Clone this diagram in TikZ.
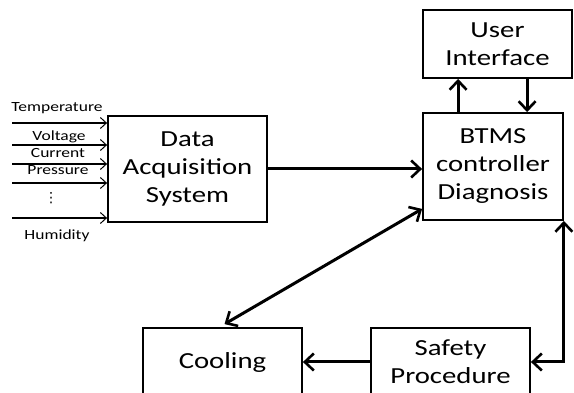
\documentclass[tikz,border=0pt]{standalone}
\usepackage{fontspec}
\setmainfont{Carlito}[FakeStretch=1.25]
\newfontfamily\symfont{DejaVu Sans}
\usetikzlibrary{arrows.meta}

\tikzset{
  block/.style={draw, line width=1.8pt, align=center, font=\fontsize{23}{28}\selectfont},
  inlabel/.style={font=\fontsize{14}{14}\selectfont},
  flow/.style={line width=3pt, -{Straight Barb[length=9pt,width=17pt,line width=2.6pt]}},
  flowboth/.style={line width=3pt, {Straight Barb[length=9pt,width=17pt,line width=2.6pt]}-{Straight Barb[length=9pt,width=17pt,line width=2.6pt]}},
  feed/.style={line width=1.1pt, -{Straight Barb[length=6pt,width=11pt,line width=1pt]}}
}

\begin{document}
\begin{tikzpicture}[x=1pt,y=-1pt]
	\useasboundingbox (0,0) rectangle (574,393);

	% blocks
	\node[block, minimum width=159pt, minimum height=106pt] (daq) at (187.5,169) {Data\\Acquisition\\System};
	\node[block, minimum width=149pt, minimum height=68pt] (ui) at (497.5,44) {User\\Interface};
	\node[block, minimum width=140pt, minimum height=107pt] (btms) at (493,166.5) {BTMS\\controller\\Diagnosis};
	\node[block, minimum width=159pt, minimum height=68pt] (cooling) at (222.5,362) {Cooling};
	\node[block, minimum width=159pt, minimum height=68pt] (safety) at (450.5,362) {Safety\\Procedure};

	% inputs
	\coordinate (in1) at (12,123);
	\coordinate (in2) at (12,145);
	\coordinate (in3) at (12,164);
	\coordinate (in4) at (12,183);
	\coordinate (in5) at (12,218);

	\node[inlabel] (temp) at (57,108) {Temperature};
	\node[inlabel] (volt) at (59,137) {Voltage};
	\node[inlabel] (cur) at (58,153) {Current};
	\node[inlabel] (pres) at (58,170) {Pressure};
	\node[inlabel] (dots) at (51,198) {\symfont ⋮};
	\node[inlabel] (hum) at (57,236) {Humidity};

	\foreach \i in {1,...,5}
		\draw[feed] (in\i) -- (in\i -| daq.west);

	% connections
	\draw[flow] (daq.east) -- (daq.east -| btms.west);
	\draw[flow] ([xshift=36pt]btms.north west) -- ([xshift=36pt]ui.south west);
	\draw[flow] ([xshift=105pt]ui.south west) -- ([xshift=105pt]btms.north west);
	\draw[flowboth] ([yshift=12pt]btms.south west) -- ([xshift=2pt,yshift=3pt]cooling.north);
	\draw[flowboth] (safety.east) -| (btms.south east);
	\draw[flow] (safety.west) -- (cooling.east);
\end{tikzpicture}
\end{document}
